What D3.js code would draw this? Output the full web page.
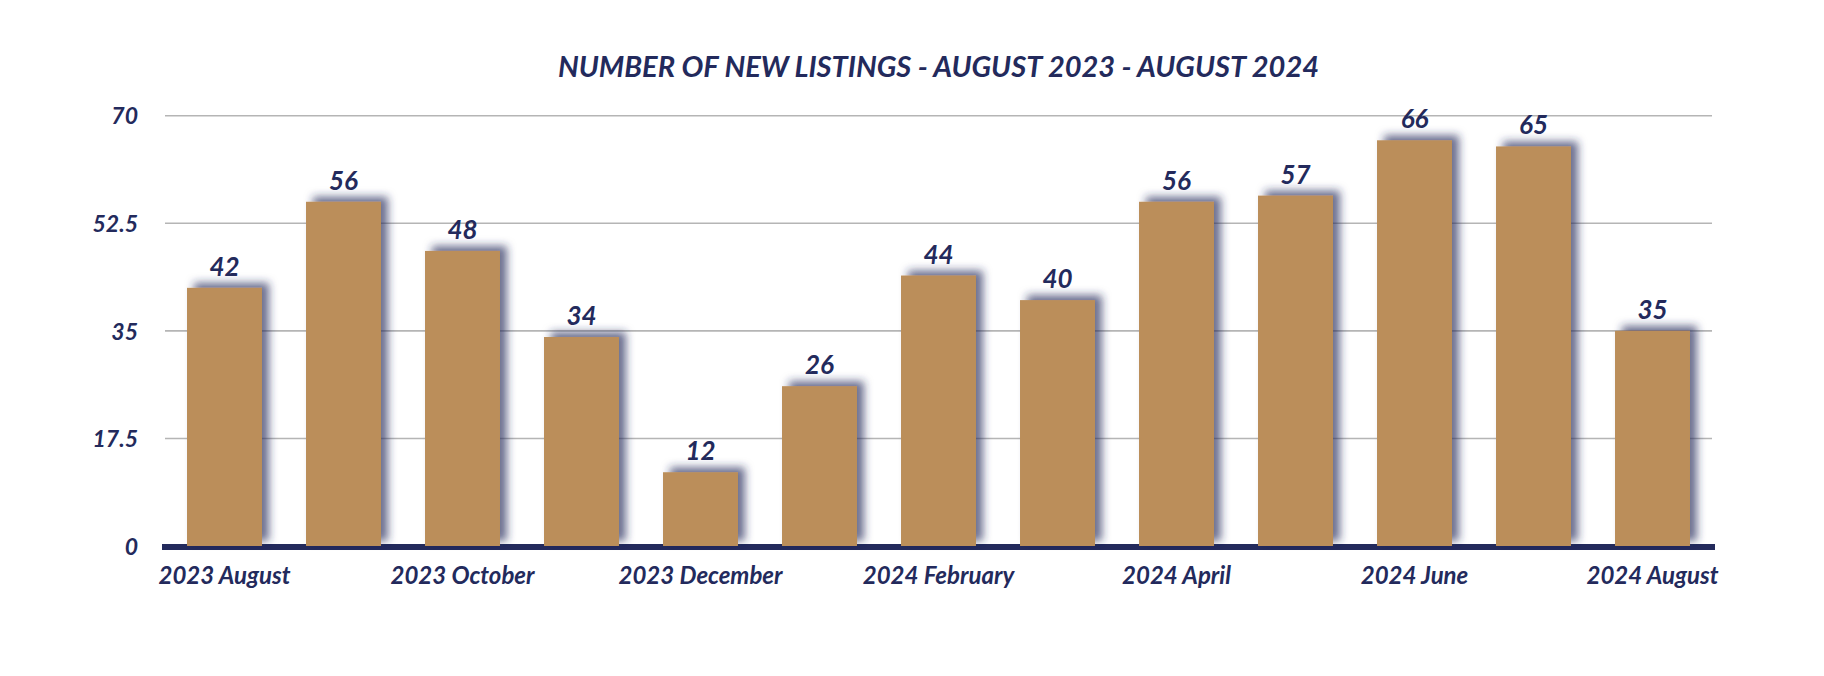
<!DOCTYPE html>
<html>
<head>
<meta charset="utf-8">
<script src="https://cdn.jsdelivr.net/npm/d3@7"></script>
<style>
  html, body { margin: 0; padding: 0; background: #ffffff; }
  svg { display: block; }
  text { font-family: Lato, "Open Sans", sans-serif; font-style: italic; font-weight: 700; fill: #232a5c; }
</style>
</head>
<body>
<div id="chart"></div>
<script>
const months = ["2023 August","2023 September","2023 October","2023 November","2023 December","2024 January","2024 February","2024 March","2024 April","2024 May","2024 June","2024 July","2024 August"];
const listings = [42, 56, 48, 34, 12, 26, 44, 40, 56, 57, 66, 65, 35];
const yTicks = [0, 17.5, 35, 52.5, 70];
const xTickLabels = ["2023 August","2023 October","2023 December","2024 February","2024 April","2024 June","2024 August"];
const title = "NUMBER OF NEW LISTINGS - AUGUST 2023 - AUGUST 2024";

const W = 1824, H = 676;
const navy = "#232a5c", gold = "#bb8e5a", grid = "#b5b5b5";

const svg = d3.select("#chart").append("svg").attr("width", W).attr("height", H);

const defs = svg.append("defs");
const f = defs.append("filter").attr("id", "shadow")
  .attr("x", "-30%").attr("y", "-30%").attr("width", "160%").attr("height", "160%");
f.append("feDropShadow").attr("dx", 7).attr("dy", -5).attr("stdDeviation", 4)
  .attr("flood-color", navy).attr("flood-opacity", 0.68);

const x = d3.scaleBand().domain(months).range([165, 1712]).paddingInner(0.37).paddingOuter(0.185);
const y = d3.scaleLinear().domain([0, 70]).range([546, 115.7]);

// gridlines
svg.append("g").selectAll("line").data(yTicks.filter(d => d > 0)).join("line")
  .attr("x1", 165).attr("x2", 1712)
  .attr("y1", d => y(d)).attr("y2", d => y(d))
  .attr("stroke", grid).attr("stroke-width", 1.6);

// y axis labels
const yAxis = d3.axisLeft(y).tickValues(yTicks).tickSize(0).tickPadding(0).tickFormat(d => String(d));
const yg = svg.append("g").attr("transform", "translate(138,0)").call(yAxis);
yg.select(".domain").remove();
yg.selectAll("text").attr("font-size", 23).attr("dy", "0.36em")
  .style("font-family", "Lato, sans-serif").style("font-style", "italic").style("font-weight", 700).attr("fill", navy);

// baseline
svg.append("line").attr("x1", 162).attr("x2", 1715).attr("y1", y(0) + 1).attr("y2", y(0) + 1)
  .attr("stroke", navy).attr("stroke-width", 6);

// bars
svg.append("g").selectAll("rect").data(months).join("rect")
  .attr("x", d => x(d)).attr("width", x.bandwidth())
  .attr("y", (d, i) => y(listings[i])).attr("height", (d, i) => y(0) - y(listings[i]))
  .attr("fill", gold).attr("filter", "url(#shadow)");

// value labels
svg.append("g").selectAll("text").data(months).join("text")
  .attr("x", d => x(d) + x.bandwidth() / 2)
  .attr("y", (d, i) => y(listings[i]) - 12)
  .attr("text-anchor", "middle").attr("font-size", 26)
  .text((d, i) => listings[i]);

// x axis labels
const xAxis = d3.axisBottom(x).tickValues(xTickLabels).tickSize(0).tickPadding(0);
const xg = svg.append("g").attr("transform", "translate(0,584)").call(xAxis);
xg.select(".domain").remove();
xg.selectAll("text").attr("dy", 0).attr("font-size", 24)
  .style("font-family", "Lato, sans-serif").style("font-style", "italic").style("font-weight", 700).attr("fill", navy);

// title
svg.append("text").attr("x", (165 + 1712) / 2).attr("y", 77)
  .attr("text-anchor", "middle").attr("font-size", 29).text(title);
</script>
</body>
</html>
